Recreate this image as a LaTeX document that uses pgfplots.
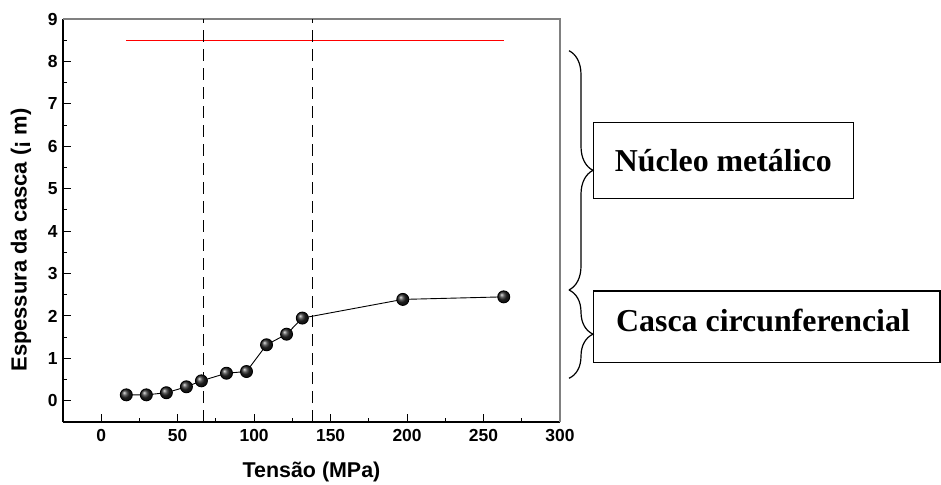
\documentclass[border=0pt]{standalone}
\usepackage{fontspec}
\setmainfont{Liberation Sans}
\newfontfamily\timesfont{Liberation Serif}
\usepackage{pgfplots}
\pgfplotsset{compat=1.18}
\usetikzlibrary{decorations.pathreplacing}
\begin{document}
\begin{tikzpicture}
\useasboundingbox (-63bp,-63bp) rectangle (878bp,422bp);
\begin{axis}[
  at={(0,0)}, anchor=south west,
  scale only axis, width=497bp, height=403bp,
  xmin=-25, xmax=300, ymin=-0.5, ymax=9,
  xtick={0,50,...,300}, ytick={0,1,...,9},
  minor x tick num=1, minor y tick num=1,
  axis x line*=bottom, axis y line*=left,
  axis line style={black, line width=1.2bp},
  tick align=inside,
  major tick length=8bp, minor tick length=4.5bp,
  tick style={black, line width=1bp},
  /pgf/number format/assume math mode=true,
  ticklabel style={font=\fontsize{17.5}{19}\selectfont\bfseries},
  xticklabel style={yshift=-3.5bp},
  yticklabel style={xshift=-2bp},
  xlabel={Tensão (MPa)},
  ylabel={Espessura da casca (¡ m)},
  xlabel style={font=\fontsize{21.5}{23}\selectfont\bfseries, at={(axis description cs:0.5,-0.124)}, anchor=center},
  ylabel style={font=\fontsize{22}{24}\selectfont\bfseries, at={(axis description cs:-0.0845,0.4516)}, anchor=center},
  clip=false,
]
\draw[gray, line width=1.2bp] (rel axis cs:0,1) -- (rel axis cs:1,1) -- (rel axis cs:1,0);
\addplot[red, line width=1.3bp] coordinates {(16.4,8.5) (263.2,8.5)};
\addplot[black, line width=1bp, dash pattern=on 12bp off 7bp] coordinates {(67.2,-0.5) (67.2,9)};
\addplot[black, line width=1bp, dash pattern=on 12bp off 7bp] coordinates {(138,-0.5) (138,9)};
\addplot[black, line width=0.9bp, mark=ball, mark size=6bp, mark options={ball color=black!85}] coordinates {
(16.4,0.14) (29.5,0.14) (42.6,0.19) (55.7,0.33) (65.5,0.47) (81.9,0.65) (95.0,0.69)
(108.1,1.32) (121.2,1.57) (131.5,1.95) (197.2,2.39) (263.2,2.45)
};
\end{axis}
\draw[line width=1.2bp, decorate, decoration={brace, amplitude=24bp}] (506bp,371.3bp) -- (506bp,132bp);
\draw[line width=1.2bp, decorate, decoration={brace, amplitude=24bp}] (506bp,132bp) -- (506bp,43.7bp);
\draw[line width=1.3bp] (530.3bp,223.7bp) rectangle (790.3bp,299.3bp);
\node[font=\timesfont\fontsize{32}{34}\selectfont\bfseries, anchor=center] at (660.3bp,261.5bp) {Núcleo metálico};
\draw[line width=1.3bp] (877bp,59.7bp) -- (530.3bp,59.7bp) -- (530.3bp,131bp) -- (877bp,131bp) -- cycle;
\node[font=\timesfont\fontsize{32}{34}\selectfont\bfseries, anchor=base west, inner sep=0pt] at (553bp,90.3bp) {Casca circunferencial};
\end{tikzpicture}
\end{document}
